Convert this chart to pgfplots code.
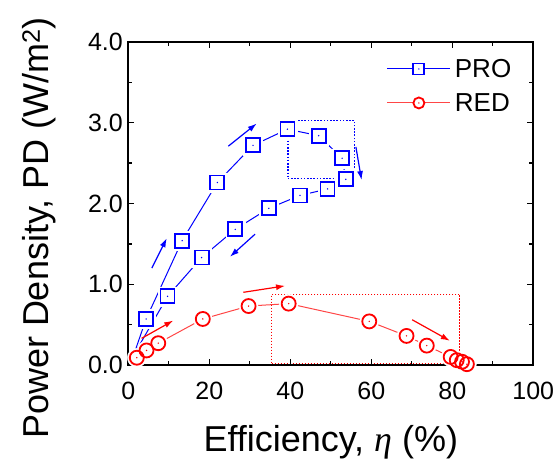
\documentclass[border=0pt]{standalone}
\usepackage{fontspec}
\setmainfont{Liberation Sans}
\newfontfamily\serifgr{Liberation Serif}
\usepackage{pgfplots}
\pgfplotsset{compat=1.18}
\usetikzlibrary{arrows.meta}

\definecolor{pblue}{RGB}{0,0,255}
\definecolor{pred}{RGB}{255,0,0}
\definecolor{predline}{RGB}{255,70,70}

\newcommand{\tickfont}{\fontsize{25}{30}\selectfont}
\newcommand{\legfont}{\fontsize{26}{30}\selectfont}
\newcommand{\labfont}{\fontsize{36}{42}\selectfont}

% open square / circle with a small centre dot (Origin style)
\newcommand{\cdotmark}{%
  \pgfscope\pgfsetlinewidth{0.9pt}%
  \pgfpathcircle{\pgfpointorigin}{0.15pt}\pgfusepathqstroke\endpgfscope}
\pgfdeclareplotmark{sqdot}{%
  \pgfpathrectangle{\pgfpoint{-\pgfplotmarksize}{-\pgfplotmarksize}}{\pgfpoint{2\pgfplotmarksize}{2\pgfplotmarksize}}%
  \pgfusepathqstroke\cdotmark}
\pgfdeclareplotmark{cdot}{%
  \pgfpathcircle{\pgfpointorigin}{\pgfplotmarksize}%
  \pgfusepathqstroke\cdotmark}
% the same with a white inside, for the legend
\pgfdeclareplotmark{sqdotw}{%
  \pgfscope\pgfsetfillcolor{white}%
  \pgfpathrectangle{\pgfpoint{-\pgfplotmarksize}{-\pgfplotmarksize}}{\pgfpoint{2\pgfplotmarksize}{2\pgfplotmarksize}}%
  \pgfusepathqfillstroke\endpgfscope\cdotmark}
\pgfdeclareplotmark{cdotw}{%
  \pgfscope\pgfsetfillcolor{white}%
  \pgfpathcircle{\pgfpointorigin}{\pgfplotmarksize}%
  \pgfusepathqfillstroke\endpgfscope\cdotmark}

\begin{document}
\begin{tikzpicture}
\useasboundingbox (-128.3pt,-97pt) rectangle (429.7pt,365pt);
\begin{axis}[
    scale only axis, width=405pt, height=323pt,
    xmin=0, xmax=100, ymin=0, ymax=4,
    xtick={0,20,...,100}, ytick={0,1,2,3,4},
    minor x tick num=1, minor y tick num=1,
    tick align=inside,
    major tick length=6pt, minor tick length=4pt,
    tick style={black, line width=1.4pt},
    axis line style={black, line width=2pt},
    axis on top,
    ticklabel style={font=\tickfont},
    /pgf/number format/assume math mode=true,
    yticklabel style={xshift=-2pt, /pgf/number format/.cd, fixed, fixed zerofill, precision=1},
    xticklabel style={anchor=base, yshift=-35pt},
    xlabel={Efficiency, {\serifgr\itshape η} (\%)},
    ylabel={Power Density, PD (W/m\textsuperscript{2})},
    label style={font=\labfont},
    xlabel style={at={(axis description cs:0.5,-0.2684)}, anchor=base},
    ylabel style={at={(axis description cs:-0.1958,0.424)}, anchor=base},
    legend style={at={(axis description cs:0.638,0.945)}, anchor=north west,
        draw=none, fill=none, inner sep=0pt, font=\legfont, row sep=16pt,
        nodes={inner xsep=4pt, inner ysep=0pt, text height=18pt, text depth=0pt}},
    legend cell align=left,
    legend image code/.code={%
        \draw[mark repeat=2, mark phase=2] plot coordinates {(0pt,0pt) (31.5pt,0pt) (63pt,0pt)};},
]
% connecting lines
\addplot[pblue, line width=1pt, forget plot] coordinates {
    (1.3,0.12)(4.4,0.57)(13.3,1.54)(22.0,2.26)(30.8,2.72)(39.3,2.92)
    (47.0,2.84)(52.8,2.56)(53.7,2.30)(49.2,2.18)(42.4,2.10)(34.7,1.94)
    (26.4,1.68)(18.1,1.33)(9.7,0.85)(1.3,0.12)
};
\addplot[predline, line width=1pt, forget plot] coordinates {
    (2.1,0.09)(4.5,0.18)(7.4,0.27)(18.4,0.57)(29.7,0.73)(39.6,0.76)
    (59.5,0.54)(68.7,0.36)(73.7,0.24)(79.6,0.10)(81.1,0.06)(82.4,0.04)(83.6,0.01)
};
% white gaps round the markers
\addplot[only marks, mark=square*, mark size=9.5pt, white, forget plot] coordinates {
    (4.4,0.57)(13.3,1.54)(22.0,2.26)(30.8,2.72)(39.3,2.92)
    (47.0,2.84)(52.8,2.56)(53.7,2.30)(49.2,2.18)(42.4,2.10)(34.7,1.94)
    (26.4,1.68)(18.1,1.33)(9.7,0.85)
};
\addplot[only marks, mark=*, mark size=9.5pt, white, forget plot] coordinates {
    (2.1,0.09)(4.5,0.18)(7.4,0.27)(18.4,0.57)(29.7,0.73)(39.6,0.76)
    (59.5,0.54)(68.7,0.36)(73.7,0.24)(79.6,0.10)(81.1,0.06)(82.4,0.04)(83.6,0.01)
};
% dotted boxes
\addplot[pblue, line width=1.4pt, dash pattern=on 1.6pt off 1.6pt, forget plot] coordinates {
    (39.4,2.31)(55.8,2.31)(55.8,3.03)(39.4,3.03)(39.4,2.31)};
\addplot[pred, line width=1pt, dash pattern=on 1.5pt off 1.5pt, forget plot] coordinates {
    (35.4,0.02)(81.9,0.02)(81.9,0.875)(35.4,0.875)(35.4,0.02)};
% arrows
\addplot[pblue, line width=1.2pt, -{Latex[length=9pt,width=6pt]}, forget plot] coordinates {(24.7,2.71)(31.7,2.99)};
\addplot[pblue, line width=1.2pt, -{Latex[length=9pt,width=6pt]}, forget plot] coordinates {(56.2,2.70)(57.6,2.29)};
\addplot[pblue, line width=1.2pt, -{Latex[length=9pt,width=6pt]}, forget plot] coordinates {(5.8,1.20)(9.5,1.57)};
\addplot[pblue, line width=1.2pt, -{Latex[length=9pt,width=6pt]}, forget plot] coordinates {(31.3,1.62)(25.1,1.34)};
\addplot[pred, line width=1.2pt, -{Latex[length=9pt,width=6pt]}, forget plot] coordinates {(3.3,0.33)(11.1,0.55)};
\addplot[pred, line width=1.2pt, -{Latex[length=9pt,width=6pt]}, forget plot] coordinates {(28.4,0.90)(38.7,0.98)};
\addplot[pred, line width=1.2pt, -{Latex[length=9pt,width=6pt]}, forget plot] coordinates {(70.1,0.56)(79.4,0.30)};
% markers
\addplot[only marks, pblue, mark=sqdot, mark size=7pt, mark options={line width=1.8pt}, forget plot] coordinates {
    (4.4,0.57)(13.3,1.54)(22.0,2.26)(30.8,2.72)(39.3,2.92)
    (47.0,2.84)(52.8,2.56)(53.7,2.30)(49.2,2.18)(42.4,2.10)(34.7,1.94)
    (26.4,1.68)(18.1,1.33)(9.7,0.85)
};
\addplot[only marks, pred, mark=cdot, mark size=7pt, mark options={line width=1.8pt}, forget plot] coordinates {
    (2.1,0.09)(4.5,0.18)(7.4,0.27)(18.4,0.57)(29.7,0.73)(39.6,0.76)
    (59.5,0.54)(68.7,0.36)(73.7,0.24)(79.6,0.10)(81.1,0.06)(82.4,0.04)(83.6,0.01)
};
% legend
\addlegendimage{pblue, line width=1pt, mark=sqdotw, mark size=5.5pt, mark options={pblue, line width=1.8pt}}
\addlegendentry{PRO}
\addlegendimage{predline, line width=1pt, mark=cdotw, mark size=5.5pt, mark options={pred, line width=1.8pt}}
\addlegendentry{RED}
\end{axis}
\end{tikzpicture}
\end{document}
